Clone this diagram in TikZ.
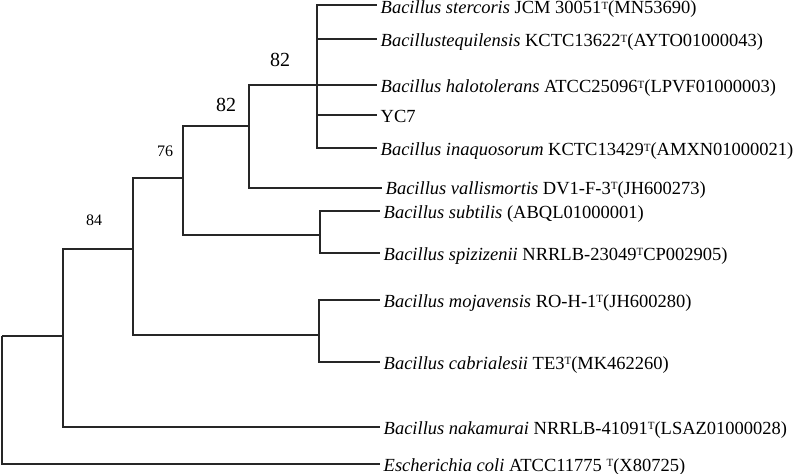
\documentclass[tikz,border=0pt]{standalone}
\usepackage{fontspec}
\setmainfont{Liberation Serif}
\newcommand{\supT}{\raisebox{4.5pt}{\fontsize{11}{11}\selectfont T}}
\begin{document}
\begin{tikzpicture}[x=1pt,y=-1pt,
  br/.style={line width=1.2pt,black!85},
  leaf/.style={anchor=base west,inner sep=3.5pt,font=\fontsize{18.5}{20}\selectfont},
  bsbig/.style={font=\fontsize{20}{22}\selectfont,inner sep=0pt},
  bssmall/.style={font=\fontsize{16}{18}\selectfont,inner sep=0pt}]
\useasboundingbox (0,0) rectangle (796,474);
% internal nodes
\coordinate (R) at (2,336);
\coordinate (N84) at (63,336);
\coordinate (Na) at (133,249);
\coordinate (N76) at (183,178);
\coordinate (N82o) at (249,126);
\coordinate (N82i) at (317,85);
\coordinate (Nsub) at (320,235);
\coordinate (Nmoj) at (319,335);
% leaf tips
\coordinate (t1) at (377,5);
\coordinate (t2) at (377,39);
\coordinate (t3) at (377,85);
\coordinate (t4) at (377,115);
\coordinate (t5) at (377,148);
\coordinate (t6) at (382,188);
\coordinate (t7) at (380,211);
\coordinate (t8) at (380,253);
\coordinate (t9) at (380,300);
\coordinate (t10) at (380,362);
\coordinate (t11) at (380,427);
\coordinate (t12) at (380,464);
% leaf labels
\node[leaf] (l1) at ([yshift=-8.5pt]t1) {\textit{Bacillus stercoris} JCM 30051\supT(MN53690)};
\node[leaf] (l2) at ([yshift=-7.5pt]t2) {\textit{Bacillustequilensis} KCTC13622\supT(AYTO01000043)};
\node[leaf] (l3) at ([yshift=-7.5pt]t3) {\textit{Bacillus halotolerans} ATCC25096\supT(LPVF01000003)};
\node[leaf] (l4) at ([yshift=-7.5pt]t4) {YC7};
\node[leaf] (l5) at ([yshift=-7.5pt]t5) {\textit{Bacillus inaquosorum} KCTC13429\supT(AMXN01000021)};
\node[leaf] (l6) at ([yshift=-6pt]t6) {\textit{Bacillus vallismortis} DV1-F-3\supT(JH600273)};
\node[leaf] (l7) at ([yshift=-7pt]t7) {\textit{Bacillus subtilis} (ABQL01000001)};
\node[leaf] (l8) at ([yshift=-7pt]t8) {\textit{Bacillus spizizenii} NRRLB-23049\supT CP002905)};
\node[leaf] (l9) at ([yshift=-7pt]t9) {\textit{Bacillus mojavensis} RO-H-1\supT(JH600280)};
\node[leaf] (l10) at ([yshift=-7pt]t10) {\textit{Bacillus cabrialesii} TE3\supT(MK462260)};
\node[leaf] (l11) at ([yshift=-7pt]t11) {\textit{Bacillus nakamurai} NRRLB-41091\supT(LSAZ01000028)};
\node[leaf] (l12) at ([yshift=-7pt]t12) {\textit{Escherichia coli} ATCC11775 \supT(X80725)};
% branches
\draw[br] (R) |- (t12);
\draw[br] (R) -- (N84);
\draw[br] (N84) |- (Na);
\draw[br] (N84) |- (t11);
\draw[br] (Na) |- (N76);
\draw[br] (Na) |- (Nmoj);
\draw[br] (Nmoj) |- (t9);
\draw[br] (Nmoj) |- (t10);
\draw[br] (N76) |- (N82o);
\draw[br] (N76) |- (Nsub);
\draw[br] (Nsub) |- (t7);
\draw[br] (Nsub) |- (t8);
\draw[br] (N82o) |- (N82i);
\draw[br] (N82o) |- (t6);
\foreach \t in {t1,t2,t3,t4,t5} \draw[br] (N82i) |- (\t);
% bootstrap values
\node[bsbig] (b1) at (280,60) {82};
\node[bsbig] (b2) at (226,105) {82};
\node[bssmall] (b3) at (165,151) {76};
\node[bssmall] (b4) at (94,220) {84};
\end{tikzpicture}
\end{document}
